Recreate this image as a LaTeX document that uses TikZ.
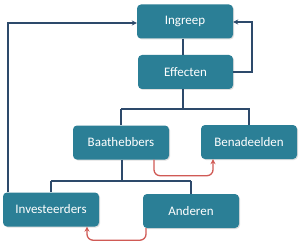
\documentclass[tikz,border=0pt]{standalone}
\usepackage{fontspec}
\setmainfont{Carlito}
\usetikzlibrary{arrows.meta,shadows}
\definecolor{boxfill}{HTML}{2B7F96}
\definecolor{linec}{HTML}{2D4A6B}
\definecolor{redc}{HTML}{D05A55}
\tikzset{
  box/.style={draw=none, fill=boxfill, rounded corners=4pt, text=white,
    font=\fontsize{13}{15}\selectfont, minimum height=34pt, inner sep=0pt,
    drop shadow={shadow xshift=1pt, shadow yshift=-1pt, opacity=0.25}},
  conn/.style={draw=linec, line width=1.3pt},
  arr/.style={conn, -{Stealth[length=5pt,width=5pt]}},
  redarr/.style={draw=redc, line width=1.3pt, rounded corners=6pt, -{Stealth[length=5pt,width=5pt]}}
}
\begin{document}
\begin{tikzpicture}[x=1pt,y=-1pt]
\useasboundingbox (0,0) rectangle (300,246);
\fill[white] (0,0) rectangle (300,246);
\node[box, minimum width=96pt] (ing) at (185,21.5) {Ingreep};
\node[box, minimum width=95pt] (eff) at (185.5,72) {Effecten};
\node[box, minimum width=96pt] (baa) at (121,142.5) {Baathebbers};
\node[box, minimum width=96pt] (ben) at (249,142) {Benadeelden};
\node[box, minimum width=96pt] (inv) at (51,209.5) {Investeerders};
\node[box, minimum width=96pt] (and) at (191,211) {Anderen};
\coordinate (b1) at (183,109);
\coordinate (b2) at (122,181);
% connectors
\draw[conn] (ing.south -| b1) -- (eff.north -| b1);
\draw[conn] (eff.south -| b1) -- (b1);
\draw[conn] (baa.north |- b1) -- (baa.north) ;
\draw[conn] (baa.north |- b1) -- (ben.north |- b1) -- (ben.north);
\draw[conn] (baa.south -| b2) -- (b2);
\draw[conn] (inv.north |- b2) -- (and.north |- b2);
\draw[conn] (inv.north |- b2) -- (inv.north);
\draw[conn] (and.north |- b2) -- (and.north);
% feedback loops
\coordinate (lx) at (8,23);
\draw[arr] (inv.north -| lx) -- (lx) -- (ing.west |- lx);
\coordinate (rx) at (252,22);
\draw[arr] (eff.east) -- (eff.east -| rx) -- (rx) -- (ing.east |- rx);
% red arrows
\draw[redarr] ([xshift=33pt]baa.south) -- ++(0,16) -| ([xshift=-36pt]ben.south);
\draw[redarr] ([xshift=-45pt]and.south) -- ++(0,12) -| ([xshift=36pt]inv.south);
\end{tikzpicture}
\end{document}
